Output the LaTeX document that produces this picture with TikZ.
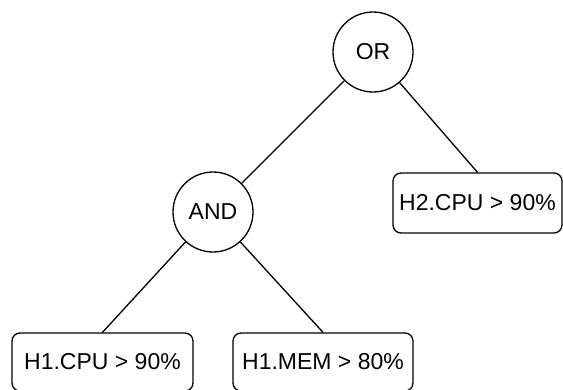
\documentclass[tikz,border=0pt]{standalone}
\usepackage{fontspec}
\setmainfont{Liberation Sans}
\begin{document}
\begin{tikzpicture}[x=1pt,y=1pt,
  every node/.style={font=\fontsize{23}{27}\selectfont},
  gate/.style={circle,draw,line width=1.3pt,minimum size=80pt,inner sep=0pt},
  cond/.style={rectangle,draw,line width=1.3pt,rounded corners=8pt,minimum height=60pt,inner sep=0pt},
  link/.style={line width=1.3pt}]
\useasboundingbox (0,0) rectangle (563,-389);
% logic gates
\node[gate] (or)  at (373,-52)  {OR};
\node[gate] (and) at (213,-212) {AND};
% leaf conditions
\node[cond,minimum width=169pt] (h2cpu)  at (477.5,-203) {H2.CPU > 90\%};
\node[cond,minimum width=181pt,minimum height=58pt] (h1cpu) at (102.5,-362) {H1.CPU > 90\%};
\node[cond,minimum width=180pt,minimum height=58pt] (h1mem) at (323,-362) {H1.MEM > 80\%};
% tree edges
\draw[link] (or) -- (and);
\draw[link] (or) -- (h2cpu.north);
\draw[link] (and) -- (h1cpu.north);
\draw[link] (and) -- (h1mem.north);
\end{tikzpicture}
\end{document}
